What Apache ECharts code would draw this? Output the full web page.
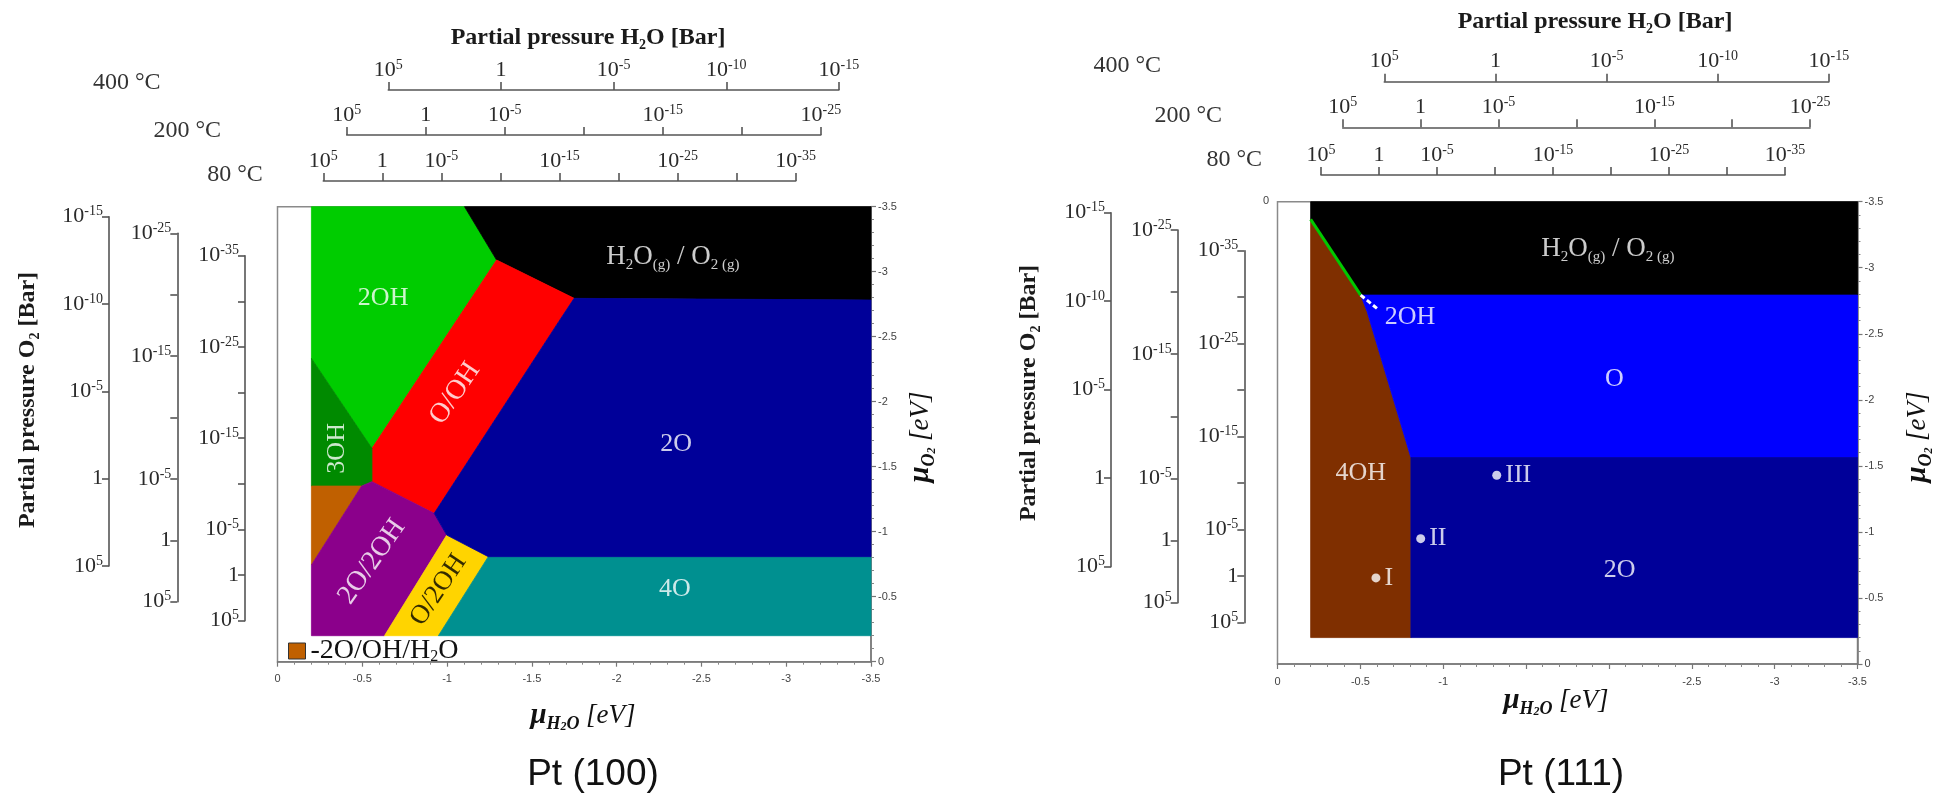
<!DOCTYPE html>
<html lang="en">
<head>
<meta charset="utf-8">
<title>Pt(100) and Pt(111) surface phase diagrams</title>
<script src="https://cdn.jsdelivr.net/npm/echarts@6/dist/echarts.min.js"></script>
<style>
html, body { margin: 0; padding: 0; background: #fff; }
#chart { width: 1946px; height: 797px; }
</style>
</head>
<body>
<div id="chart"></div>
<script>
const SERIF = '"Liberation Serif", "DejaVu Serif", serif';
const SANS = '"Liberation Sans", Arial, sans-serif';

// ---- chemical potential axes (eV) ----
const muMin = -3.5, muMax = 0, muStep = 0.5;
const pt111HiddenMuLabels = [-1.5, -2];

// ---- partial pressure decades (exponents of 10, bar), labelled ticks ----
const h2oDecades400 = [5, 0, -5, -10, -15];
const h2oDecades200 = [5, 0, -5, -15, -25];
const h2oDecades80 = [5, 0, -5, -15, -25, -35];
const o2Decades400 = [5, 0, -5, -10, -15];
const o2Decades200 = [5, 0, -5, -15, -25];
const o2Decades80 = [5, 0, -5, -15, -25, -35];

// ---- Pt(100) stability regions, vertices [muH2O, muO2] ----
const pt100_2OH = [[-0.2, -3.5], [-1.103, -3.5], [-1.292, -3.09], [-0.557, -1.641], [-0.2, -2.333]];
const pt100_gas = [[-1.103, -3.5], [-3.5, -3.5], [-3.5, -2.782], [-1.749, -2.795], [-1.292, -3.09]];
const pt100_O_OH = [[-1.292, -3.09], [-1.749, -2.795], [-1.658, -2.615], [-0.924, -1.141], [-0.557, -1.385], [-0.557, -1.641]];
const pt100_3OH = [[-0.2, -2.333], [-0.557, -1.641], [-0.557, -1.385], [-0.496, -1.351], [-0.2, -1.351]];
const pt100_2O_OH_H2O = [[-0.2, -1.351], [-0.496, -1.351], [-0.2, -0.744]];
const pt100_2O_2OH = [[-0.496, -1.351], [-0.557, -1.385], [-0.924, -1.141], [-0.998, -0.974], [-0.631, -0.2], [-0.2, -0.2], [-0.2, -0.744]];
const pt100_O_2OH = [[-0.998, -0.974], [-1.243, -0.808], [-0.949, -0.2], [-0.631, -0.2]];
const pt100_4O = [[-1.243, -0.808], [-3.5, -0.808], [-3.5, -0.2], [-0.949, -0.2]];
const pt100_2O = [[-1.749, -2.795], [-3.5, -2.782], [-3.5, -0.808], [-1.243, -0.808], [-0.998, -0.974], [-0.924, -1.141], [-1.658, -2.615]];

// ---- Pt(111) stability regions ----
const pt111_gas = [[-0.2, -3.5], [-3.5, -3.5], [-3.5, -2.793], [-0.502, -2.793], [-0.2, -3.366]];
const pt111_4OH = [[-0.2, -3.366], [-0.502, -2.793], [-0.541, -2.667], [-0.805, -1.563], [-0.805, -0.2], [-0.2, -0.2]];
const pt111_O = [[-0.502, -2.793], [-3.5, -2.793], [-3.5, -1.563], [-0.805, -1.563], [-0.541, -2.667]];
const pt111_2O = [[-0.805, -1.563], [-3.5, -1.563], [-3.5, -0.2], [-0.805, -0.2]];
const pt111_2OHedge = [[-0.2, -3.366], [-0.502, -2.793]];
const pt111_2OHpointer = [[-0.502, -2.793], [-0.613, -2.679]];

// ---- marked conditions on Pt(111) ----
const pt111Points = [['I', -0.594, -0.652], ['II', -0.864, -0.949], ['III', -1.323, -1.429]];

// ---- phase names and where they sit [name, muH2O, muO2] ----
const pt100Names = [
  ['H2O(g) / O2(g)', -2.331, -3.115],
  ['2OH', -0.623, -2.795],
  ['O/OH', -1.047, -2.064],
  ['2O', -2.351, -1.674],
  ['3OH', -0.35, -1.641],
  ['2O/2OH', -0.557, -0.769],
  ['O/2OH', -0.949, -0.551],
  ['4O', -2.344, -0.556]
];
const pt111Names = [
  ['H2O(g) / O2(g)', -1.993, -3.146],
  ['O', -2.033, -2.154],
  ['2OH', -0.8, -2.624],
  ['4OH', -0.502, -1.442],
  ['2O', -2.065, -0.71]
];

// ---- styling ----
const phaseColor = {
  '2OH': '#00cc00', gas: '#000000', 'O/OH': '#ff0000', '3OH': '#008a00',
  mixed: '#c06000', '2O/2OH': '#8b008b', 'O/2OH': '#ffd400', '4O': '#009090',
  '2O': '#000099', O: '#0000ff', '4OH': '#7f2f00'
};
const nameStyle = {
  'O/OH': { rotate: 56, size: 28 }, '3OH': { rotate: 90 }, '2O/2OH': { rotate: 55, size: 28 },
  'O/2OH': { rotate: 56, size: 27, color: '#000' }
};

const layout = {
  pt100: { left: 277.5, top: 206.7, right: 871, bottom: 661.7 },
  pt111: { left: 1277.5, top: 201.7, right: 1857.5, bottom: 664 },
  pt100H2O: [[388.3, 838.9, 90], [346.7, 820.8, 135], [323.3, 795.7, 181]],
  pt111H2O: [[1384.3, 1828.8, 81.7], [1342.7, 1810.1, 127.3], [1321, 1785, 175]],
  pt100O2: [[109, 216.7, 566], [177.3, 233.3, 601.7], [245, 255.7, 620.7]],
  pt111O2: [[1111, 212.7, 566.7], [1177.7, 230, 602.7], [1244.3, 250.7, 622.7]]
};

const grid = [], xAxis = [], yAxis = [], series = [], graphic = [];

function muFormatter(hidden) {
  return v => {
    const r = Math.round(v * 10) / 10;
    if (hidden.includes(r)) return '';
    return r === 0 ? '0' : String(r);
  };
}

function addPlot(box, hiddenX) {
  const gi = grid.push({
    left: box.left, top: box.top, width: box.right - box.left, height: box.bottom - box.top,
    show: true, borderColor: '#8a8a8a', borderWidth: 1.5, backgroundColor: 'rgba(0,0,0,0)',
    outerBoundsMode: 'none'
  }) - 1;
  const base = {
    gridIndex: gi, type: 'value', min: muMin, max: muMax, interval: muStep, inverse: true,
    axisLine: { show: true, onZero: false, lineStyle: { color: '#777', width: 1.5 } },
    axisTick: { show: true, length: 5, lineStyle: { color: '#777', width: 1.2 } },
    minorTick: { show: true, splitNumber: 5, length: 3, lineStyle: { color: '#888', width: 1 } },
    splitLine: { show: false }, minorSplitLine: { show: false }
  };
  const lab = { fontFamily: SANS, fontSize: 11, color: '#444', showMinLabel: true, showMaxLabel: true };
  xAxis.push(Object.assign({}, base, { position: 'bottom',
    axisLabel: Object.assign({}, lab, { margin: 12, formatter: muFormatter(hiddenX) }) }));
  yAxis.push(Object.assign({}, base, { position: 'right',
    axisLabel: Object.assign({}, lab, { margin: 7, formatter: muFormatter([]) }) }));
  return gi;
}

function hiddenAxis(gi) {
  return { gridIndex: gi, type: 'value', show: false, min: 0, max: 1 };
}

function decadeLabel(decades) {
  return {
    showMinLabel: true, showMaxLabel: true,
    formatter: v => {
      const e = Math.round(v);
      if (!decades.includes(e)) return '';
      return e === 0 ? '{n|1}' : '{n|10}{e|' + e + '}';
    },
    rich: {
      n: { fontFamily: SERIF, fontSize: 22, color: '#2a2a2a', lineHeight: 24 },
      e: { fontFamily: SERIF, fontSize: 14, color: '#2a2a2a', lineHeight: 14, verticalAlign: 'top' }
    }
  };
}

const pressLine = { show: true, onZero: false, lineStyle: { color: '#555', width: 1.6 } };

function addH2OAxis([left, right, y], decades) {
  const gi = grid.push({ left, top: y, width: right - left, height: 1, outerBoundsMode: 'none' }) - 1;
  xAxis.push({
    gridIndex: gi, type: 'value', position: 'top', inverse: true,
    min: decades[decades.length - 1], max: decades[0], interval: 5,
    axisLine: pressLine,
    axisTick: { show: true, length: 8, lineStyle: { color: '#555', width: 1.6 } },
    splitLine: { show: false },
    axisLabel: Object.assign({ margin: 8 }, decadeLabel(decades))
  });
  yAxis.push(hiddenAxis(gi));
}

function addO2Axis([x, top, bottom], decades) {
  const gi = grid.push({ left: x, top, width: 1, height: bottom - top, outerBoundsMode: 'none' }) - 1;
  yAxis.push({
    gridIndex: gi, type: 'value', position: 'left', inverse: true,
    min: decades[decades.length - 1], max: decades[0], interval: 5,
    axisLine: pressLine,
    axisTick: { show: true, length: 7, lineStyle: { color: '#555', width: 1.6 } },
    splitLine: { show: false },
    axisLabel: Object.assign({ margin: 6 }, decadeLabel(decades))
  });
  xAxis.push(hiddenAxis(gi));
}

function addRegion(gi, name, pts, color) {
  series.push({
    type: 'custom', name, xAxisIndex: gi, yAxisIndex: gi, data: pts, silent: true, z: 2,
    itemStyle: { color }, encode: { x: 0, y: 1 },
    renderItem: (params, api) => {
      if (params.dataIndexInside !== 0) return null;
      const points = [];
      for (let i = 0; i < params.dataInsideLength; i++) {
        points.push(api.coord([api.value(0, i), api.value(1, i)]));
      }
      return { type: 'polygon', shape: { points }, style: { fill: color, stroke: color, lineWidth: 0.8 } };
    }
  });
}

function richName(n, size) {
  if (n === 'H2O(g) / O2(g)') return '{g|H}{s|2}{g|O}{s|(g)}{g| / O}{s|2 (g)}';
  return '{' + (size === 28 ? 'l' : size === 27 ? 'k' : 'm') + '|' + n + '}';
}

function addNames(gi, list) {
  series.push({
    type: 'scatter', xAxisIndex: gi, yAxisIndex: gi, symbolSize: 0, silent: true, z: 6,
    data: list.map(([name, x, y]) => {
      const st = nameStyle[name] || {};
      return { name, value: [x, y], label: { rotate: st.rotate || 0, color: st.color || '#fff' } };
    }),
    label: {
      show: true, position: 'inside', color: '#fff', fontFamily: SERIF, fontSize: 26,
      formatter: p => richName(p.name, (nameStyle[p.name] || {}).size),
      rich: {
        m: { fontFamily: SERIF, fontSize: 26, lineHeight: 30 },
        k: { fontFamily: SERIF, fontSize: 27, lineHeight: 30 },
        l: { fontFamily: SERIF, fontSize: 28, lineHeight: 32 },
        g: { fontFamily: SERIF, fontSize: 27, lineHeight: 32 },
        s: { fontFamily: SERIF, fontSize: 15, lineHeight: 15, verticalAlign: 'bottom' }
      }
    }
  });
}

// main diagrams
const g100 = addPlot(layout.pt100, []);
const g111 = addPlot(layout.pt111, pt111HiddenMuLabels);

// pressure scales: 400, 200 and 80 °C
const h2oSets = [h2oDecades400, h2oDecades200, h2oDecades80];
const o2Sets = [o2Decades400, o2Decades200, o2Decades80];
layout.pt100H2O.forEach((p, i) => addH2OAxis(p, h2oSets[i]));
layout.pt111H2O.forEach((p, i) => addH2OAxis(p, h2oSets[i]));
layout.pt100O2.forEach((p, i) => addO2Axis(p, o2Sets[i]));
layout.pt111O2.forEach((p, i) => addO2Axis(p, o2Sets[i]));

// Pt(100) regions
addRegion(g100, '2OH', pt100_2OH, phaseColor['2OH']);
addRegion(g100, 'H2O(g) / O2(g)', pt100_gas, phaseColor.gas);
addRegion(g100, 'O/OH', pt100_O_OH, phaseColor['O/OH']);
addRegion(g100, '3OH', pt100_3OH, phaseColor['3OH']);
addRegion(g100, '-2O/OH/H2O', pt100_2O_OH_H2O, phaseColor.mixed);
addRegion(g100, '2O/2OH', pt100_2O_2OH, phaseColor['2O/2OH']);
addRegion(g100, 'O/2OH', pt100_O_2OH, phaseColor['O/2OH']);
addRegion(g100, '4O', pt100_4O, phaseColor['4O']);
addRegion(g100, '2O', pt100_2O, phaseColor['2O']);

// Pt(111) regions
addRegion(g111, 'gas (111)', pt111_gas, phaseColor.gas);
addRegion(g111, '4OH', pt111_4OH, phaseColor['4OH']);
addRegion(g111, 'O', pt111_O, phaseColor.O);
addRegion(g111, '2O (111)', pt111_2O, phaseColor['2O']);

// narrow 2OH strip on Pt(111) and its pointer
series.push({
  type: 'line', xAxisIndex: g111, yAxisIndex: g111, data: pt111_2OHedge, symbol: 'none', silent: true, z: 4,
  lineStyle: { color: '#00c800', width: 3 }
});
series.push({
  type: 'line', xAxisIndex: g111, yAxisIndex: g111, data: pt111_2OHpointer, symbol: 'none', silent: true, z: 4,
  lineStyle: { color: '#ffffff', width: 3, type: [5, 3] }
});

// conditions I, II, III
series.push({
  type: 'scatter', xAxisIndex: g111, yAxisIndex: g111, symbolSize: 9, silent: true, z: 6,
  itemStyle: { color: '#fff' },
  data: pt111Points.map(([name, x, y]) => ({ name, value: [x, y] })),
  label: { show: true, position: 'right', distance: 4, formatter: '{b}', color: '#fff', fontFamily: SERIF, fontSize: 26 }
});

addNames(g100, pt100Names);
addNames(g111, pt111Names);

// free-standing titles
function text(x, y, str, style, rotation) {
  graphic.push({
    type: 'text', x, y, rotation: rotation || 0, silent: true,
    style: Object.assign({ text: str, align: 'center', verticalAlign: 'middle',
      textAlign: 'center', textVerticalAlign: 'middle' }, style)
  });
}

const titleStyle = {
  fontFamily: SERIF, fontSize: 24, fontWeight: 'bold', fill: '#1a1a1a', lineHeight: 28,
  rich: { s: { fontFamily: SERIF, fontSize: 14, fontWeight: 'bold', fill: '#1a1a1a', lineHeight: 14, verticalAlign: 'bottom' } }
};
const tempStyle = { fontFamily: SERIF, fontSize: 24, fill: '#333' };
const muStyle = {
  fontFamily: SERIF, fontSize: 26, fontStyle: 'italic', fill: '#111', lineHeight: 34,
  rich: {
    mu: { fontFamily: SERIF, fontSize: 29, fontStyle: 'italic', fontWeight: 'bold', fill: '#111', lineHeight: 34 },
    sb: { fontFamily: SERIF, fontSize: 18, fontStyle: 'italic', fontWeight: 'bold', fill: '#111', lineHeight: 20, verticalAlign: 'bottom' },
    ss: { fontFamily: SERIF, fontSize: 12, fontStyle: 'italic', fontWeight: 'bold', fill: '#111', lineHeight: 12, verticalAlign: 'bottom' },
    ev: { fontFamily: SERIF, fontSize: 27, fontStyle: 'italic', fill: '#111', lineHeight: 34 }
  }
};
const muH2O = '{mu|μ}{sb|H}{ss|2}{sb|O} {ev|[eV]}';
const muO2 = '{mu|μ}{sb|O}{ss|2} {ev|[eV]}';
const panelStyle = { fontFamily: SANS, fontSize: 37, fill: '#111' };

text(588, 38, 'Partial pressure H{s|2}O [Bar]', titleStyle);
text(1595, 22, 'Partial pressure H{s|2}O [Bar]', titleStyle);
text(28, 400, 'Partial pressure O{s|2} [Bar]', titleStyle, Math.PI / 2);
text(1029, 393, 'Partial pressure O{s|2} [Bar]', titleStyle, Math.PI / 2);

text(126.7, 82.7, '400 °C', tempStyle);
text(187.3, 130.7, '200 °C', tempStyle);
text(235, 174.3, '80 °C', tempStyle);
text(1127.3, 66, '400 °C', tempStyle);
text(1188.3, 116, '200 °C', tempStyle);
text(1234.3, 160, '80 °C', tempStyle);

text(583, 716, muH2O, muStyle);
text(921, 437, muO2, muStyle, Math.PI / 2);
text(1556, 701, muH2O, muStyle);
text(1918, 437, muO2, muStyle, Math.PI / 2);

text(593, 775, 'Pt (100)', panelStyle);
text(1561, 775, 'Pt (111)', panelStyle);
text(1266, 201, '0', { fontFamily: SANS, fontSize: 11, fill: '#444' });

const chart = echarts.init(document.getElementById('chart'), null, { renderer: 'canvas' });
chart.setOption({
  backgroundColor: '#ffffff',
  animation: false,
  grid, xAxis, yAxis, series, graphic,
  legend: {
    show: true, left: 283, top: 632, itemWidth: 17, itemHeight: 16, itemGap: 5, selectedMode: false,
    data: [{ name: '-2O/OH/H2O', icon: 'rect', itemStyle: { borderColor: '#333', borderWidth: 1 } }],
    formatter: () => '{t|-2O/OH/H}{u|2}{t|O}',
    textStyle: {
      rich: {
        t: { fontFamily: SERIF, fontSize: 28, color: '#111', lineHeight: 28 },
        u: { fontFamily: SERIF, fontSize: 16, color: '#111', lineHeight: 16, verticalAlign: 'bottom' }
      }
    }
  }
});
</script>
</body>
</html>
